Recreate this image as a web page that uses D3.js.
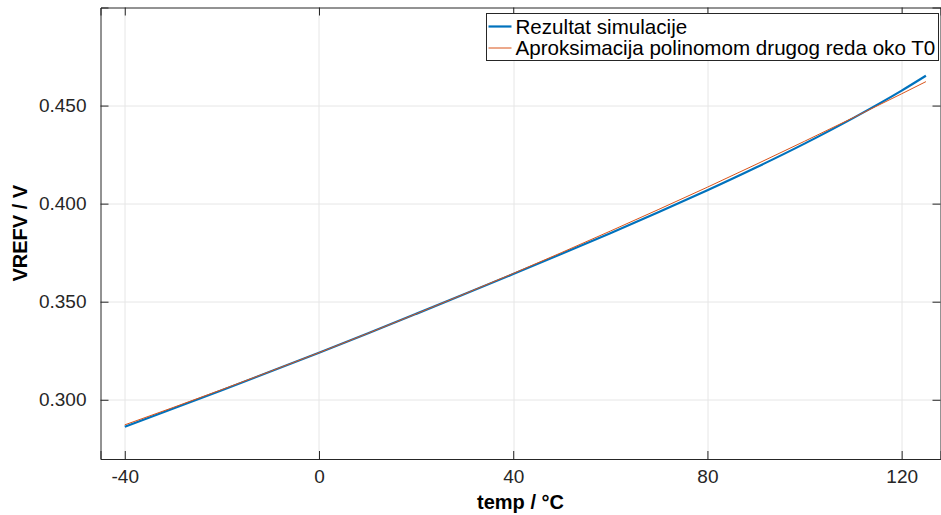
<!DOCTYPE html>
<html>
<head>
<meta charset="utf-8">
<script src="https://cdn.jsdelivr.net/npm/d3@7"></script>
<style>
  body { margin: 0; background: #fff; }
  svg { display: block; font-family: "Liberation Sans", Arial, sans-serif; }
  .tick text { fill: #262626; font-size: 19px; }
  .axisText { font-weight: bold; font-size: 20px; fill: #000; }
</style>
</head>
<body>
<div class="chart"></div>
<script>
// temperature points (deg C)
var temps = [-40, -30, -20, -10, 0, 10, 20, 30, 40, 50, 60, 70, 80, 90, 100, 110, 120, 125];

// simulation result (V)
var simValues = [0.2862, 0.2955, 0.3049, 0.3144, 0.3240, 0.3338, 0.3438, 0.3539, 0.3641,
  0.3744, 0.3849, 0.3957, 0.4068, 0.4184, 0.4306, 0.4436, 0.4576, 0.4652];

// second order polynomial approximation around T0 (V)
var approxValues = [0.2872, 0.2961, 0.3052, 0.3145, 0.3240, 0.3338, 0.3438, 0.3540, 0.3644,
  0.3751, 0.3860, 0.3971, 0.4084, 0.4200, 0.4318, 0.4438, 0.4560, 0.4622];

var xTicks = [-40, 0, 40, 80, 120];
var yTicks = [0.30, 0.35, 0.40, 0.45];
var seriesNames = ["Rezultat simulacije", "Aproksimacija polinomom drugog reda oko T0"];

var svgWidth = 941;
var svgHeight = 515;

var margin = { top: 7.5, bottom: 56, right: 0.5, left: 100.5 };

var width = svgWidth - margin.left - margin.right;
var height = svgHeight - margin.top - margin.bottom;

var svg = d3.select(".chart")
  .append("svg")
  .attr("width", svgWidth)
  .attr("height", svgHeight);

var chartGroup = svg.append("g")
  .attr("transform", `translate(${margin.left}, ${margin.top})`);

// scales
var xScale = d3.scaleLinear()
  .domain([-45, 128])
  .range([0, width]);

var yScale = d3.scaleLinear()
  .domain([0.2698, 0.5])
  .range([height, 0]);

// grid
chartGroup.append("g")
  .selectAll("line")
  .data(xTicks)
  .enter()
  .append("line")
  .attr("x1", d => Math.round(xScale(d)) + 0.5)
  .attr("x2", d => Math.round(xScale(d)) + 0.5)
  .attr("y1", 0)
  .attr("y2", height)
  .attr("stroke", "#e6e6e6")
  .attr("stroke-width", 1);

chartGroup.append("g")
  .selectAll("line")
  .data(yTicks)
  .enter()
  .append("line")
  .attr("x1", 0)
  .attr("x2", width)
  .attr("y1", d => Math.round(yScale(d)) + 0.5)
  .attr("y2", d => Math.round(yScale(d)) + 0.5)
  .attr("stroke", "#e6e6e6")
  .attr("stroke-width", 1);

// axes (ticks point inward)
var xAxis = d3.axisBottom(xScale).tickValues(xTicks).tickSize(-8).tickPadding(11)
  .tickFormat(d => String(d));
var yAxis = d3.axisLeft(yScale).tickValues(yTicks).tickSize(-8).tickPadding(14)
  .tickFormat(d3.format(".3f"));
var xAxisTop = d3.axisTop(xScale).tickValues(xTicks).tickSize(-8).tickFormat("");
var yAxisRight = d3.axisRight(yScale).tickValues(yTicks).tickSize(-8).tickFormat("");

var axes = [
  chartGroup.append("g").attr("transform", `translate(0, ${height})`).call(xAxis),
  chartGroup.append("g").call(yAxis),
  chartGroup.append("g").call(xAxisTop),
  chartGroup.append("g").attr("transform", `translate(${width}, 0)`).call(yAxisRight)
];
axes.forEach(function (g) {
  g.select(".domain").attr("stroke", "#262626");
  g.selectAll(".tick line").attr("stroke", "#262626");
  g.selectAll(".tick text").attr("font-family", null).attr("font-size", null);
});

// lines
var simData = temps.map((t, i) => ({ t: t, v: simValues[i] }));
var approxData = temps.map((t, i) => ({ t: t, v: approxValues[i] }));

var line = d3.line()
  .curve(d3.curveMonotoneX)
  .x(d => xScale(d.t))
  .y(d => yScale(d.v));

chartGroup.append("path")
  .data([simData])
  .attr("d", line)
  .attr("fill", "none")
  .attr("stroke", "#0072BD")
  .attr("stroke-width", 2.2);

chartGroup.append("path")
  .data([approxData])
  .attr("d", line)
  .attr("fill", "none")
  .attr("stroke", "#D95319")
  .attr("stroke-width", 1);

// legend
var legend = svg.append("g")
  .attr("transform", "translate(486.5, 13.5)");

legend.append("rect")
  .attr("width", 452)
  .attr("height", 47)
  .attr("fill", "#fff")
  .attr("stroke", "#262626")
  .attr("stroke-width", 1);

var legendColors = ["#0072BD", "#D95319"];
var legendWidths = [2.2, 1];

seriesNames.forEach(function (name, i) {
  var y = 13 + i * 21.5;
  legend.append("line")
    .attr("x1", 2)
    .attr("x2", 25)
    .attr("y1", y)
    .attr("y2", y)
    .attr("stroke", legendColors[i])
    .attr("stroke-width", legendWidths[i]);
  legend.append("text")
    .attr("x", 29)
    .attr("y", y)
    .attr("dy", "0.35em")
    .attr("font-size", "20.6px")
    .attr("fill", "#000")
    .text(name);
});

// axis labels
chartGroup.append("text")
  .attr("x", width / 2)
  .attr("y", 509 - margin.top)
  .attr("text-anchor", "middle")
  .attr("class", "axisText")
  .text("temp / °C");

chartGroup.append("text")
  .attr("transform", "rotate(-90)")
  .attr("x", -height / 2)
  .attr("y", -74)
  .attr("text-anchor", "middle")
  .attr("class", "axisText")
  .text("VREFV / V");
</script>
</body>
</html>
